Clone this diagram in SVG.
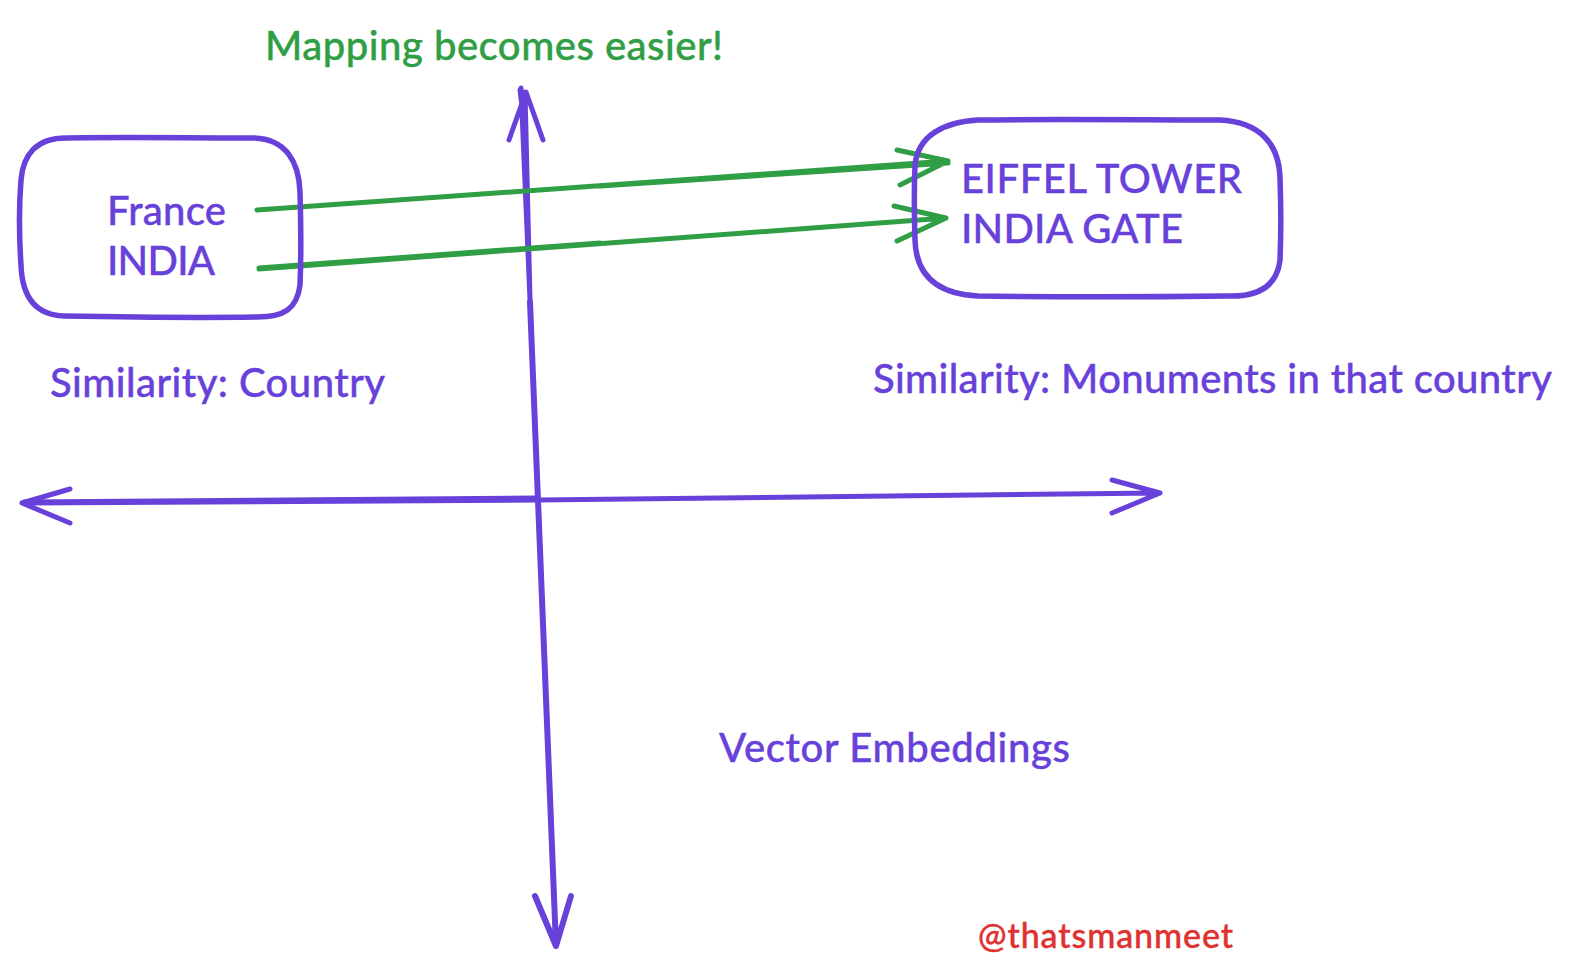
<svg xmlns="http://www.w3.org/2000/svg" width="1572" height="976" viewBox="0 0 1572 976">
<style>
text{font-family:"Lato","Noto Sans",sans-serif;font-size:40px;font-weight:500;fill:#6741d9;stroke:#6741d9;stroke-width:.4}
.p{fill:none;stroke:#6741d9;stroke-width:5;stroke-linecap:round;stroke-linejoin:round}
.g{fill:none;stroke:#2f9e44;stroke-width:5;stroke-linecap:round;stroke-linejoin:round}
</style>
<rect width="1572" height="976" fill="#fff"/>
<g id="connectors">
<path class="p" d="M521 88L530 300M525 92L530 300M509 140L526 92L543 140M520 90L525 130"/>
<path class="p" style="stroke-width:6" d="M530 302L556 946M535 896L556 946L571 896"/>
<path class="p" d="M22 503L538 500L1160 493M70 489L22 503L70 523M1112 480L1160 493L1112 513"/>
<path class="p" d="M24 502L538 498"/>
<path class="g" d="M257 210L948 161M897 150L948 161L900 185M600 186L948 163"/>
<path class="g" d="M259 269L946 218M894 206L946 218L897 241M259 268L600 243"/>
</g>
<g id="france-box">
<path class="p" style="stroke-width:5.5" d="M66 138C120 137 190 138 254 138C286 139 299 162 300 192C301 225 301 260 300 285C297 309 284 317 257 317C190 318 120 317 64 316C34 315 22 295 21 265C19 235 19 205 21 180C23 155 36 138 66 138Z"/>
<text x="107" y="225" textLength="119">France</text>
<text x="107" y="275" textLength="108">INDIA</text>
</g>
<g id="monument-box">
<path class="p" style="stroke-width:5.5" d="M978 120C1050 119 1150 120 1220 120C1258 122 1279 142 1280 178C1281 205 1281 235 1280 260C1277 286 1258 297 1228 296C1150 297 1050 297 978 296C938 294 916 276 915 240C914 210 914 190 915 165C918 136 943 122 978 120Z"/>
<text x="961" y="193" textLength="281">EIFFEL TOWER</text>
<text x="961" y="243" textLength="222">INDIA GATE</text>
</g>
<g id="labels">
<text x="265" y="60" textLength="458" style="fill:#2f9e44;stroke:#2f9e44">Mapping becomes easier!</text>
<text x="50" y="397" textLength="335">Similarity: Country</text>
<text x="873" y="393" textLength="679">Similarity: Monuments in that country</text>
<text x="719" y="762" textLength="351">Vector Embeddings</text>
<text x="978" y="948" textLength="255" style="fill:#e03131;stroke:#e03131;font-size:34px">@thatsmanmeet</text>
</g>
</svg>
